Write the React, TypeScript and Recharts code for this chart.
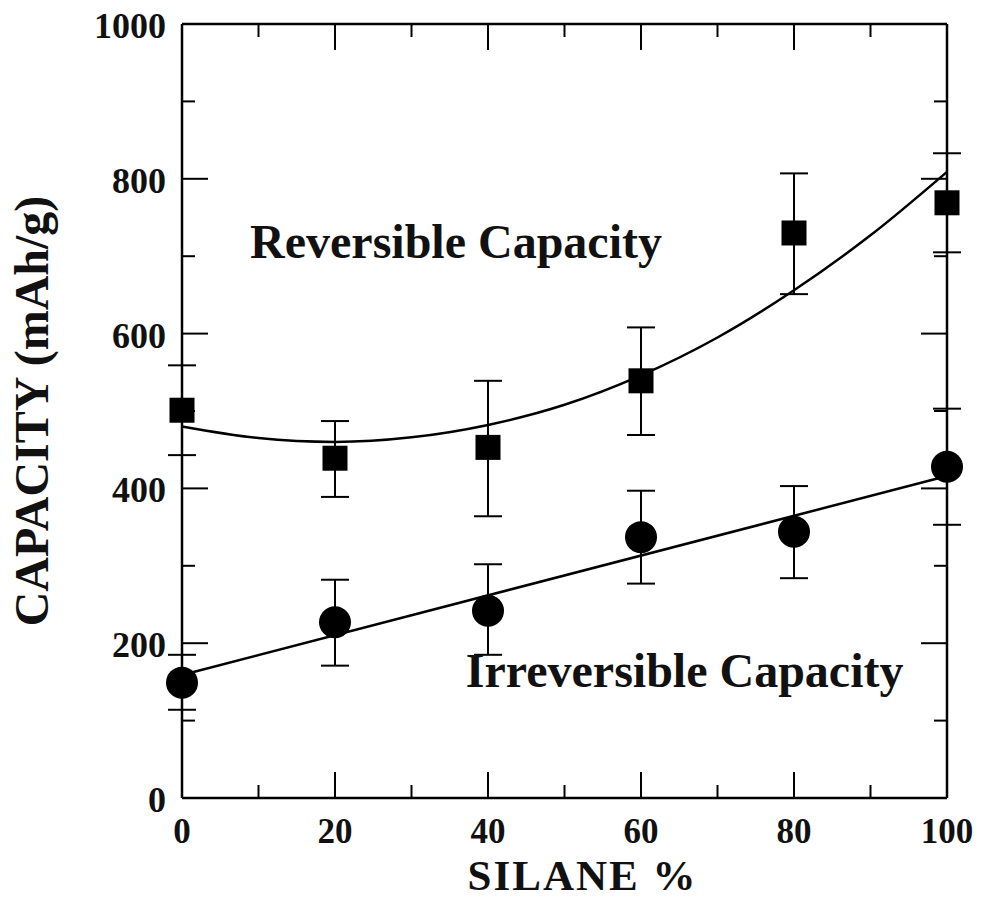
import { ComposedChart, Line, Scatter, XAxis, YAxis, ErrorBar, ReferenceDot, Label } from "recharts"

// measured points (squares = reversible, circles = irreversible)
const silane = [0, 20, 40, 60, 80, 100]
const reversible = [501, 439, 453, 539, 730, 769]
const reversibleErr: [number, number][] = [[58, 58], [50, 48], [89, 86], [70, 69], [79, 77], [64, 64]]
const irreversible = [149, 227, 242, 337, 344, 428]
const irreversibleErr: [number, number][] = [[35, 36], [56, 55], [57, 60], [60, 60], [60, 59], [75, 75]]

// fit curves
const revFitX = [0, 10, 20, 30, 40, 50, 60, 70, 80, 90, 100]
const revFitY = [480, 465, 460, 466, 482, 508, 546, 595, 656, 727, 809]
const irrFitX = [0, 100]
const irrFitY = [159, 416]

const xTicks = [0, 10, 20, 30, 40, 50, 60, 70, 80, 90, 100]
const yTicks = [0, 100, 200, 300, 400, 500, 600, 700, 800, 900, 1000]

const revPoints = silane.map((x, i) => ({ x, y: reversible[i], err: reversibleErr[i] }))
const irrPoints = silane.map((x, i) => ({ x, y: irreversible[i], err: irreversibleErr[i] }))
const revFit = revFitX.map((x, i) => ({ x, fit: revFitY[i] }))
const irrFit = irrFitX.map((x, i) => ({ x, fit: irrFitY[i] }))

const FONT = '"Liberation Serif", "Times New Roman", serif'
const MAJOR = 26
const MINOR = 13

const BottomTick = ({ x, y, payload }: any) => {
  const major = payload.value % 20 === 0
  const axisY = y - 33
  return (
    <g>
      <line x1={x} x2={x} y1={axisY} y2={axisY - (major ? MAJOR : MINOR)} stroke="#000" strokeWidth={2} />
      {major && (
        <text x={x} y={y} textAnchor="middle" dominantBaseline="central" fontFamily={FONT} fontWeight="bold" fontSize={35} fill="#111">
          {payload.value}
        </text>
      )}
    </g>
  )
}

const TopTick = ({ x, y, payload }: any) => {
  const major = payload.value % 20 === 0
  return <line x1={x} x2={x} y1={y} y2={y + (major ? MAJOR : MINOR)} stroke="#000" strokeWidth={2} />
}

const LeftTick = ({ x, y, payload }: any) => {
  const major = payload.value % 200 === 0
  const axisX = x + 16
  return (
    <g>
      <line x1={axisX} x2={axisX + (major ? MAJOR : MINOR)} y1={y} y2={y} stroke="#000" strokeWidth={2} />
      {major && (
        <text x={x} y={y + 2} textAnchor="end" dominantBaseline="central" fontFamily={FONT} fontWeight="bold" fontSize={36} fill="#111">
          {payload.value}
        </text>
      )}
    </g>
  )
}

const RightTick = ({ x, y, payload }: any) => {
  const major = payload.value % 200 === 0
  return <line x1={x} x2={x - (major ? MAJOR : MINOR)} y1={y} y2={y} stroke="#000" strokeWidth={2} />
}

const Square = ({ cx, cy }: any) => <rect x={cx - 12.5} y={cy - 12.5} width={25} height={25} fill="#000" />
const Dot = ({ cx, cy }: any) => <circle cx={cx} cy={cy} r={16} fill="#000" />

const textLabel = (value: string) => ({ cx, cy }: any) => (
  <text x={cx} y={cy} fontFamily={FONT} fontWeight="bold" fontSize={48} fill="#111">
    {value}
  </text>
)

export default function App() {
  return (
    <div style={{ position: "absolute", left: 0, top: 0, background: "#fff" }}>
      <ComposedChart width={984} height={901} margin={{ top: 0, right: 0, bottom: 0, left: 0 }}>
        <XAxis
          dataKey="x"
          type="number"
          domain={[0, 100]}
          ticks={xTicks}
          interval={0}
          height={103}
          tickSize={0}
          tickMargin={33}
          tickLine={false}
          axisLine={{ stroke: "#000", strokeWidth: 2.5 }}
          tick={<BottomTick />}
        >
          <Label
            content={({ viewBox }: any) => (
              <text
                x={viewBox.x + viewBox.width / 2 + 18}
                y={viewBox.y + 92}
                textAnchor="middle"
                fontFamily={FONT}
                fontWeight="bold"
                fontSize={43}
                letterSpacing={2}
                fill="#111"
              >
                SILANE %
              </text>
            )}
          />
        </XAxis>
        <XAxis
          xAxisId="top"
          orientation="top"
          dataKey="x"
          type="number"
          domain={[0, 100]}
          allowDataOverflow
          ticks={xTicks}
          interval={0}
          height={24}
          tickSize={0}
          tickMargin={0}
          tickLine={false}
          axisLine={{ stroke: "#000", strokeWidth: 2.5 }}
          tick={<TopTick />}
        />
        <YAxis
          type="number"
          domain={[0, 1000]}
          ticks={yTicks}
          interval={0}
          width={182}
          tickSize={0}
          tickMargin={16}
          tickLine={false}
          axisLine={{ stroke: "#000", strokeWidth: 2.5 }}
          tick={<LeftTick />}
        >
          <Label
            content={({ viewBox }: any) => {
              const cx = viewBox.x + 31
              const cy = viewBox.y + viewBox.height / 2
              return (
                <text
                  x={cx}
                  y={cy}
                  transform={`rotate(-90 ${cx} ${cy})`}
                  textAnchor="middle"
                  dominantBaseline="central"
                  fontFamily={FONT}
                  fontWeight="bold"
                  fontSize={48}
                  fill="#111"
                >
                  CAPACITY (mAh/g)
                </text>
              )
            }}
          />
        </YAxis>
        <YAxis
          yAxisId="right"
          orientation="right"
          type="number"
          domain={[0, 1000]}
          allowDataOverflow
          ticks={yTicks}
          interval={0}
          width={37}
          tickSize={0}
          tickMargin={0}
          tickLine={false}
          axisLine={{ stroke: "#000", strokeWidth: 2.5 }}
          tick={<RightTick />}
        />

        <Line data={revFit} dataKey="fit" type="monotone" stroke="#000" strokeWidth={2.5} dot={false} activeDot={false} isAnimationActive={false} />
        <Line data={irrFit} dataKey="fit" type="linear" stroke="#000" strokeWidth={2.5} dot={false} activeDot={false} isAnimationActive={false} />

        <Scatter data={revPoints} dataKey="y" shape={<Square />} isAnimationActive={false}>
          <ErrorBar dataKey="err" direction="y" width={14} stroke="#000" strokeWidth={2} />
        </Scatter>
        <Scatter data={irrPoints} dataKey="y" shape={<Dot />} isAnimationActive={false}>
          <ErrorBar dataKey="err" direction="y" width={14} stroke="#000" strokeWidth={2} />
        </Scatter>

        <ReferenceDot x={8.9} y={698} shape={textLabel("Reversible Capacity")} />
        <ReferenceDot x={37.1} y={143} shape={textLabel("Irreversible Capacity")} />
      </ComposedChart>
    </div>
  )
}
